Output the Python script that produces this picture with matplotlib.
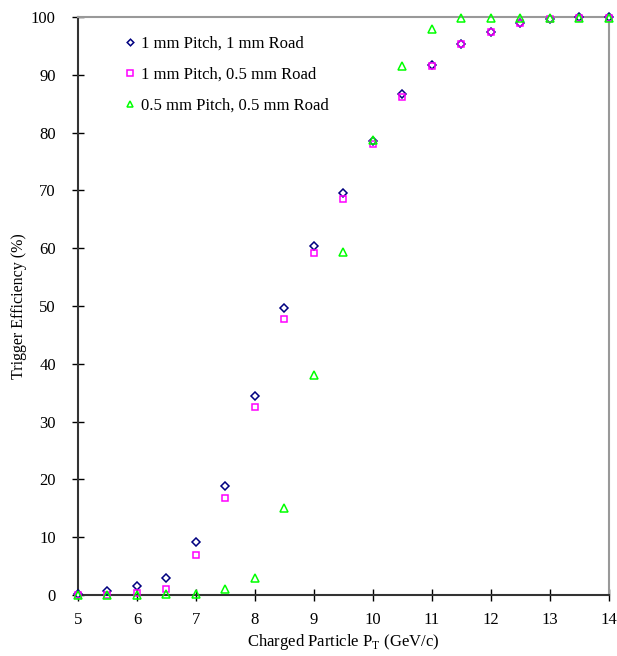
import matplotlib.pyplot as plt

plt.rcParams['font.family'] = ['Liberation Serif', 'DejaVu Serif']

pt = [5, 5.5, 6, 6.5, 7, 7.5, 8, 8.5, 9, 9.5, 10, 10.5, 11, 11.5, 12, 12.5, 13, 13.5, 14]
eff_1mm_1mm = [0.2, 0.7, 1.5, 3.0, 9.1, 18.9, 34.4, 49.6, 60.4, 69.5, 78.6, 86.7, 91.7,
               95.4, 97.5, 99.0, 99.7, 100.0, 100.0]
eff_1mm_05mm = [0.0, 0.0, 0.3, 1.0, 7.0, 16.7, 32.6, 47.8, 59.1, 68.6, 78.1, 86.2, 91.6,
                95.3, 97.4, 99.0, 99.7, 99.9, 99.9]
eff_05mm_05mm = [0.0, 0.0, 0.0, 0.2, 0.2, 1.0, 3.0, 15.1, 38.0, 59.3, 78.8, 91.6, 98.0,
                 99.9, 99.9, 99.9, 99.9, 99.9, 99.9]
labels = ["1 mm Pitch, 1 mm Road", "1 mm Pitch, 0.5 mm Road", "0.5 mm Pitch, 0.5 mm Road"]

fig = plt.figure(figsize=(6.17, 6.56), dpi=100)
ax = fig.add_axes([0.1264, 0.093, 0.8606, 0.881])

ax.plot(pt, eff_1mm_1mm, linestyle='none', marker='D', ms=4.2, mfc='white', mec='#000080',
        mew=1.1, label=labels[0], zorder=3, clip_on=False)
ax.plot(pt, eff_1mm_05mm, linestyle='none', marker='s', ms=5, mfc='none', mec='#ff00ff',
        mew=1.1, label=labels[1], zorder=4, clip_on=False)
ax.plot(pt, eff_05mm_05mm, linestyle='none', marker='^', ms=5.5, mfc='none', mec='#00ff00',
        mew=1.1, label=labels[2], zorder=5, clip_on=False)

ax.set_xlim(5, 14)
ax.set_ylim(0, 100)
ax.set_xticks(range(5, 15))
ax.set_yticks(range(0, 101, 10))
ax.tick_params(direction='inout', length=8, width=1, labelsize=12)
ax.tick_params(axis='y', pad=12)
ax.tick_params(axis='x', pad=8)

for s in ['left', 'bottom']:
    ax.spines[s].set_color('#333333')
    ax.spines[s].set_linewidth(1.5)
for s in ['top', 'right']:
    ax.spines[s].set_color('#999999')
    ax.spines[s].set_linewidth(1.5)

ax.set_xlabel(r"Charged Particle P$_\mathregular{T}$ (GeV/c)", fontsize=12, labelpad=3)
ax.set_ylabel("Trigger Efficiency (%)", fontsize=11.5, labelpad=3)

ax.legend(loc='upper left', bbox_to_anchor=(0.05, 0.993), frameon=False, fontsize=12,
          handletextpad=0.1, handlelength=1.2, labelspacing=0.9, markerscale=0.8)

fig.savefig("out.png", dpi=100)
